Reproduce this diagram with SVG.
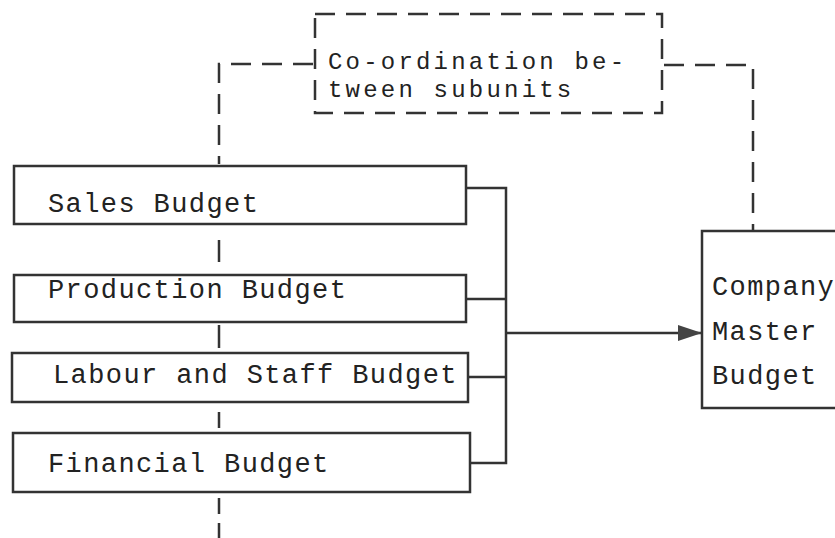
<svg xmlns="http://www.w3.org/2000/svg" width="835" height="538" viewBox="0 0 835 538">
<defs>
<style>
.box{fill:#fff;stroke:#333;stroke-width:2.5}
.dbox{fill:#fff;stroke:#333;stroke-width:2.5;stroke-dasharray:20 11}
.t{font-family:"Liberation Mono","DejaVu Sans Mono",monospace;font-size:27px;letter-spacing:1.4px;fill:#222}
.tc{font-family:"Liberation Mono","DejaVu Sans Mono",monospace;font-size:24px;letter-spacing:3.2px;fill:#222}
.c{fill:none;stroke:#333;stroke-width:2.5}
.d{fill:none;stroke:#333;stroke-width:2.5;stroke-dasharray:20 11}
</style>
<marker id="ah" markerWidth="24" markerHeight="18" refX="24" refY="9" orient="auto" markerUnits="userSpaceOnUse">
<path d="M0,1 L24,9 L0,17 Z" fill="#444"/>
</marker>
</defs>
<rect width="835" height="538" fill="#fff"/>
<g id="connectors">
<path class="d" d="M313,64 H219 V164"/>
<path class="c" d="M219,240 V262"/>
<path class="c" d="M219,325 V348"/>
<path class="c" d="M219,412 V428"/>
<path class="c" d="M219,498 V514 M219,523 V538"/>
<path class="d" d="M664,65 H753 V231"/>
<path class="c" d="M466,188 H506 V463 H470 M466,299 H506 M468,377 H506"/>
<path class="c" d="M506,333 H702" marker-end="url(#ah)"/>
</g>
<g id="coordination">
<rect class="dbox" x="315" y="14" width="347" height="99"/>
<text class="tc" x="328" y="69">Co-ordination be-</text>
<text class="tc" x="328" y="97">tween subunits</text>
</g>
<g id="sales">
<rect class="box" x="14" y="166" width="452" height="58"/>
<text class="t" x="48" y="212">Sales Budget</text>
</g>
<g id="production">
<rect class="box" x="14" y="275" width="452" height="47"/>
<text class="t" x="48" y="298">Production Budget</text>
</g>
<g id="labour">
<rect class="box" x="12" y="353" width="456" height="49"/>
<text class="t" x="53" y="383">Labour and Staff Budget</text>
</g>
<g id="financial">
<rect class="box" x="13" y="433" width="457" height="59"/>
<text class="t" x="48" y="472">Financial Budget</text>
</g>
<g id="master">
<rect class="box" x="702" y="231" width="150" height="177"/>
<text class="t" x="712" y="295">Company</text>
<text class="t" x="712" y="340">Master</text>
<text class="t" x="712" y="384">Budget</text>
</g>
</svg>
